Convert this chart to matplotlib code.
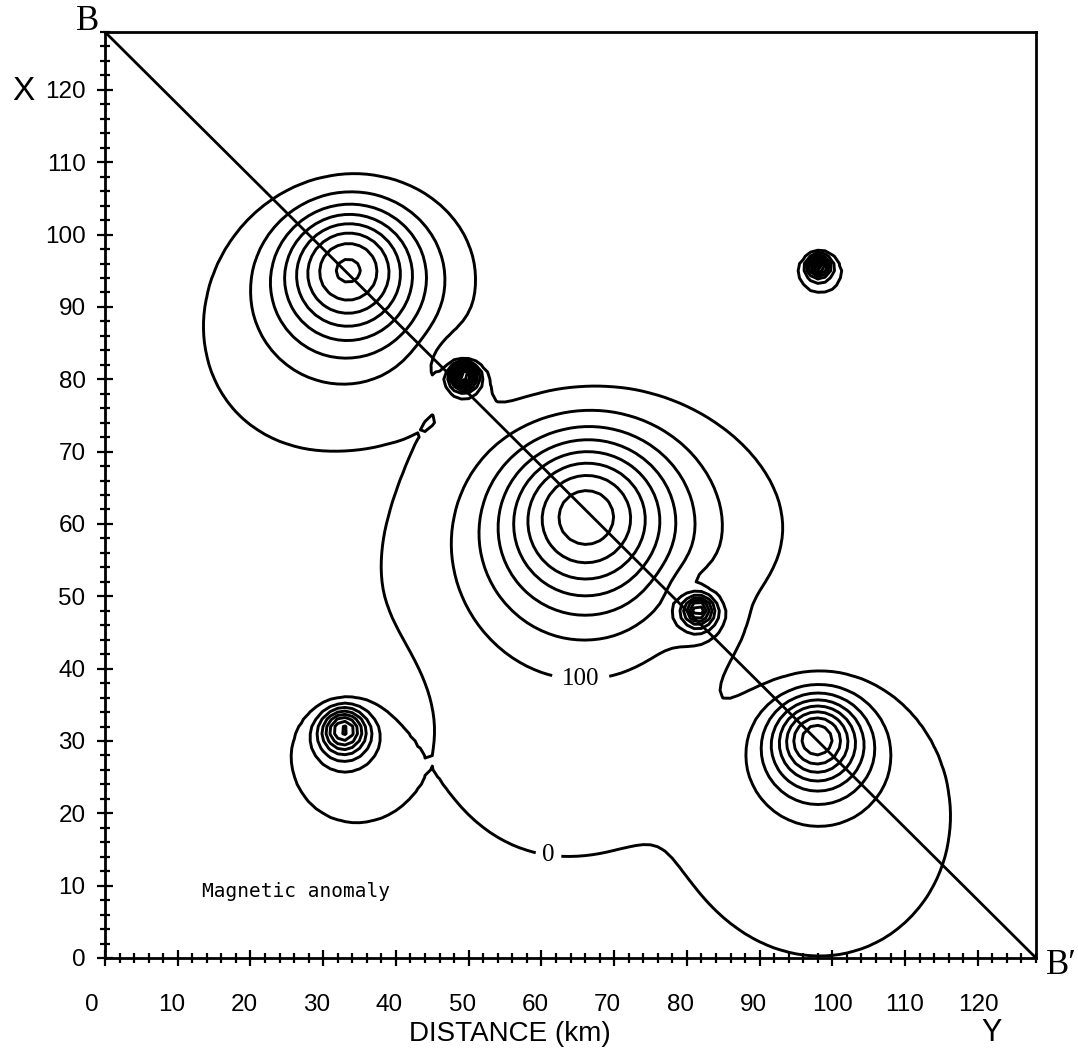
import numpy as np
import matplotlib
matplotlib.use("Agg")
import matplotlib.pyplot as plt
import matplotlib.transforms as mtrans
from matplotlib.ticker import MultipleLocator

# Survey area (km) and computation grid spacing
area_km = 128.0
grid_step_km = 1.0

# Causative bodies (induced spheres): map position of each anomaly peak (km),
# depth to body centre (km) and peak amplitude (nT)
peak_east_km = [33.5, 66.2, 97.9, 32.8, 49.3, 81.6, 98.1]
peak_north_km = [95.0, 61.0, 30.2, 31.5, 80.6, 48.1, 95.8]
depth_km = [15.8, 20.6, 10.4, 5.2, 2.5, 3.3, 2.3]
peak_nT = [756, 782, 782, 740, 1200, 700, 850]

# Inducing geomagnetic field
inclination_deg = 70.9
declination_deg = -9.7

contour_levels = np.arange(0, 2001, 100)
labelled_levels = [0, 100]
label_positions_km = [(60.9, 13.8), (65.4, 38.7)]

x_ticks = np.arange(0, 121, 10)
y_ticks = np.arange(0, 121, 10)

# Profile B-B'
profile_east = [0, 128]
profile_north = [128, 0]

# ---------------------------------------------------------------------------
inc = np.radians(inclination_deg)
dec = np.radians(declination_deg)
f_hat = np.array([np.cos(inc) * np.sin(dec), np.cos(inc) * np.cos(dec), -np.sin(inc)])


def dipole_kernel(dx, dy, h):
    """Total-field anomaly of an induced point dipole at depth h (unit moment)."""
    fr = f_hat[0] * dx + f_hat[1] * dy + f_hat[2] * h
    r2 = dx ** 2 + dy ** 2 + h ** 2
    return (3.0 * fr ** 2 - r2) / r2 ** 2.5


# peak of the unit-depth anomaly lies along the field azimuth
s = np.linspace(-4, 4, 8001)
prof = dipole_kernel(s * np.sin(dec), s * np.cos(dec), 1.0)
s_peak = s[np.argmax(prof)]
k_peak = prof.max()

g = np.arange(0, area_km + grid_step_km / 2, grid_step_km)
E, N = np.meshgrid(g, g)
field = np.zeros_like(E)
for pe, pn, h, amp in zip(peak_east_km, peak_north_km, depth_km, peak_nT):
    be = pe - s_peak * h * np.sin(dec)
    bn = pn - s_peak * h * np.cos(dec)
    field += amp * dipole_kernel(E - be, N - bn, h) * h ** 3 / k_peak

# ---------------------------------------------------------------------------
W, H = 1078, 1053
fig = plt.figure(figsize=(W / 100, H / 100), dpi=100)
ax = fig.add_axes([105 / W, 1 - 958 / H, 931 / W, 926 / H])

serif = ["Liberation Serif", "DejaVu Serif"]
sans = ["Liberation Sans", "DejaVu Sans"]

cs = ax.contour(E, N, field, levels=contour_levels, colors="black", linewidths=2.1)
ax.clabel(cs, levels=labelled_levels, manual=label_positions_km, fmt="%d",
          inline=True, inline_spacing=5, fontsize=18)
for t in cs.labelTexts:
    t.set_family(serif)
    t.set_rotation(0)

ax.plot(profile_east, profile_north, color="black", lw=2.0)

ax.set_xlim(0, area_km)
ax.set_ylim(0, area_km)
ax.xaxis.set_minor_locator(MultipleLocator(2))
ax.yaxis.set_minor_locator(MultipleLocator(2))
ax.set_xticks(x_ticks)
ax.set_yticks(y_ticks)
ax.set_xticklabels([str(v) for v in x_ticks])
ax.set_yticklabels([str(v) for v in y_ticks])
ax.tick_params(which="major", direction="inout", length=12, width=1.6,
               top=False, right=False, labelsize=17.5)
ax.tick_params(axis="x", which="major", pad=20)
ax.tick_params(axis="y", which="major", pad=8)
ax.tick_params(which="minor", direction="inout", length=6.5, width=1.6,
               top=False, right=False)

# x labels start a little to the left of their tick
shift = mtrans.ScaledTranslation(-20 / 100, 0, fig.dpi_scale_trans)
for lab in ax.get_xticklabels():
    lab.set_family(sans)
    lab.set_horizontalalignment("left")
    lab.set_transform(lab.get_transform() + shift)
for lab in ax.get_yticklabels():
    lab.set_family(sans)
for sp in ax.spines.values():
    sp.set_linewidth(2.0)

ax.text(13.35, 9.26, "Magnetic anomaly", fontsize=14, family="DejaVu Sans Mono",
        ha="left", va="center")

fig.text(88 / W, 1 - 22 / H, "B", fontsize=25, family=serif, ha="center", va="center")
fig.text(1046 / W, 1 - 966 / H, "B\u2032", fontsize=25, family=serif, ha="left", va="center")
fig.text(23 / W, 1 - 92 / H, "X", fontsize=24, family=sans, ha="center", va="center")
fig.text(992 / W, 1 - 1033 / H, "Y", fontsize=22, family=sans, ha="center", va="center")
fig.text(510 / W, 1 - 1034 / H, "DISTANCE (km)", fontsize=20, family=sans,
         ha="center", va="center")

fig.savefig("out.png", dpi=100)
